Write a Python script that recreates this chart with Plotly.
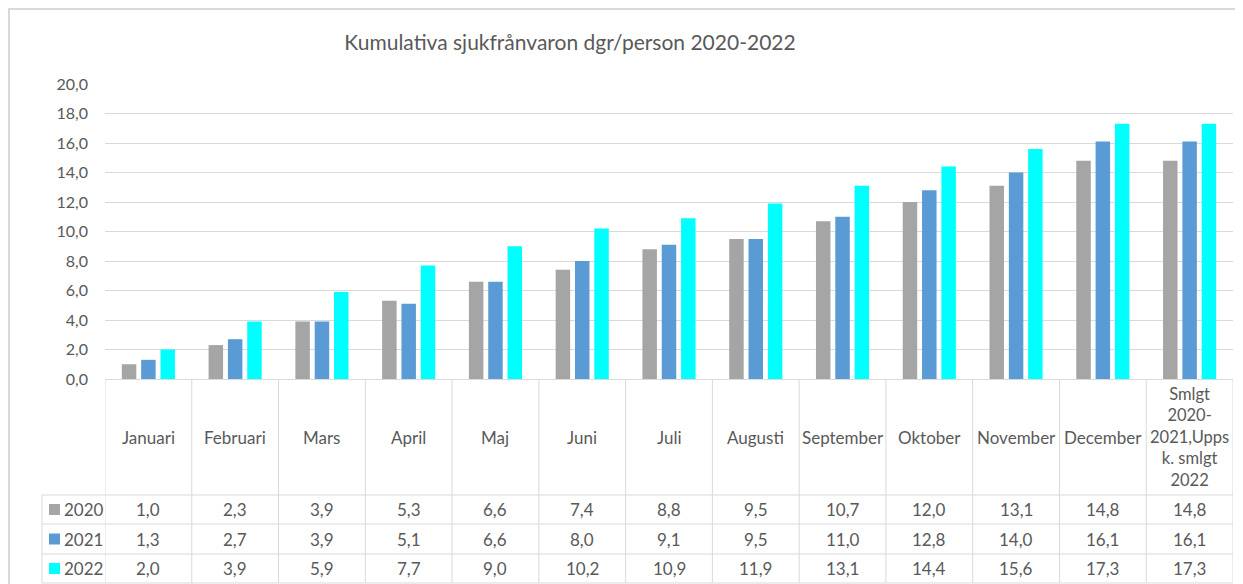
import plotly.graph_objects as go

categories = ["Januari", "Februari", "Mars", "April", "Maj", "Juni", "Juli",
              "Augusti", "September", "Oktober", "November", "December",
              "Smlgt 2020-2021,Upps k. smlgt 2022"]
header_labels = ["Januari", "Februari", "Mars", "April", "Maj", "Juni", "Juli",
                 "Augusti", "September", "Oktober", "November", "December",
                 "Smlgt<br>2020-<br>2021,Upps<br>k. smlgt<br>2022"]
series_names = ["2020", "2021", "2022"]
v2020 = [1.0, 2.3, 3.9, 5.3, 6.6, 7.4, 8.8, 9.5, 10.7, 12.0, 13.1, 14.8, 14.8]
v2021 = [1.3, 2.7, 3.9, 5.1, 6.6, 8.0, 9.1, 9.5, 11.0, 12.8, 14.0, 16.1, 16.1]
v2022 = [2.0, 3.9, 5.9, 7.7, 9.0, 10.2, 10.9, 11.9, 13.1, 14.4, 15.6, 17.3, 17.3]
title_text = "Kumulativa sjukfrånvaron dgr/person 2020-2022"

colors = ["#A5A5A5", "#5B9BD5", "#00FFFF"]
FONT = "Lato, 'Open Sans', sans-serif"
TXT = "#595959"
GRID = "#D9D9D9"

OFF = 8  # page body margin
VW, VH = 1243, 584
W, H = VW - OFF, VH - OFF
# plot area in viewport pixels
PL, PR, PT, PB = 105, 1233, 84, 379
L, T = PL - OFF, PT - OFF
R = W - (PR - OFF)
B = H - (PB - OFF)
PW = PR - PL
PH = PB - PT


def px_x(p):
    return (p - PL) / PW


def px_y(p):
    return (PB - p) / PH


fig = go.Figure()
for name, vals, c in zip(series_names, [v2020, v2021, v2022], colors):
    fig.add_trace(go.Bar(x=categories, y=vals, name=name, marker_color=c,
                         marker_line_width=0, showlegend=False))

shapes = []
annotations = []
line = dict(color=GRID, width=1)

# outer chart border
shapes.append(dict(type="rect", xref="paper", yref="paper",
                   x0=px_x(9), x1=px_x(1270), y0=px_y(620), y1=px_y(9),
                   line=dict(color=GRID, width=2), layer="below"))

# table geometry (viewport pixels)
row_tops = [495, 524, 554, 583]
n = len(categories)
for i in range(n + 1):
    shapes.append(dict(type="line", xref="x", yref="paper",
                       x0=i - 0.5, x1=i - 0.5, y0=0, y1=px_y(583), line=line))
shapes.append(dict(type="line", xref="paper", yref="paper",
                   x0=px_x(42), x1=px_x(42), y0=px_y(495), y1=px_y(583), line=line))
for r in row_tops:
    shapes.append(dict(type="line", xref="paper", yref="paper",
                       x0=px_x(42), x1=1, y0=px_y(r), y1=px_y(r), line=line))

for cat, lab in zip(categories, header_labels):
    multi = "<br>" in lab
    annotations.append(dict(x=cat, xref="x", y=px_y(437), yref="paper",
                            text=lab, showarrow=False, xanchor="center",
                            yanchor="middle",
                            font=dict(family=FONT, size=16.5 if multi else 17, color=TXT)))

for ri, (name, vals, c) in enumerate(zip(series_names, [v2020, v2021, v2022], colors)):
    top, bot = row_tops[ri], row_tops[ri + 1]
    cy = (top + bot) / 2
    for cat, v in zip(categories, vals):
        annotations.append(dict(x=cat, xref="x", y=px_y(cy), yref="paper",
                                text=f"{v:.1f}".replace(".", ","), showarrow=False,
                                xanchor="center", yanchor="middle",
                                font=dict(family=FONT, size=17, color=TXT)))
    shapes.append(dict(type="rect", xref="paper", yref="paper",
                       x0=px_x(49), x1=px_x(60), y0=px_y(cy + 5.5), y1=px_y(cy - 5.5),
                       fillcolor=c, line=dict(width=0)))
    annotations.append(dict(x=px_x(62), xref="paper", y=px_y(cy), yref="paper",
                            text=name, showarrow=False, xanchor="left",
                            yanchor="middle",
                            font=dict(family=FONT, size=17, color=TXT)))

fig.update_layout(
    width=W, height=H,
    margin=dict(l=L, r=R, t=T, b=B, pad=0),
    paper_bgcolor="white", plot_bgcolor="white",
    separators=", ",
    barmode="group", bargap=0.332, bargroupgap=0.25,
    title=dict(text=title_text, xref="container", x=(570 - OFF) / W, xanchor="center",
               yref="container", y=1 - (43 - OFF) / H, yanchor="middle",
               font=dict(family=FONT, size=21, color=TXT)),
    font=dict(family=FONT, size=15, color=TXT),
    shapes=shapes, annotations=annotations,
)
fig.update_xaxes(showticklabels=False, showline=True, linecolor=GRID, linewidth=1,
                 showgrid=False, ticks="", range=[-0.5, n - 0.5], fixedrange=True)
fig.update_yaxes(range=[0, 20], dtick=2, tickformat=".1f", showgrid=True,
                 gridcolor=GRID, gridwidth=1, zeroline=False, ticks="",
                 ticklabelstandoff=16, tickfont=dict(family=FONT, size=16, color=TXT),
                 showline=False, fixedrange=True)

fig.write_html("out.html")
